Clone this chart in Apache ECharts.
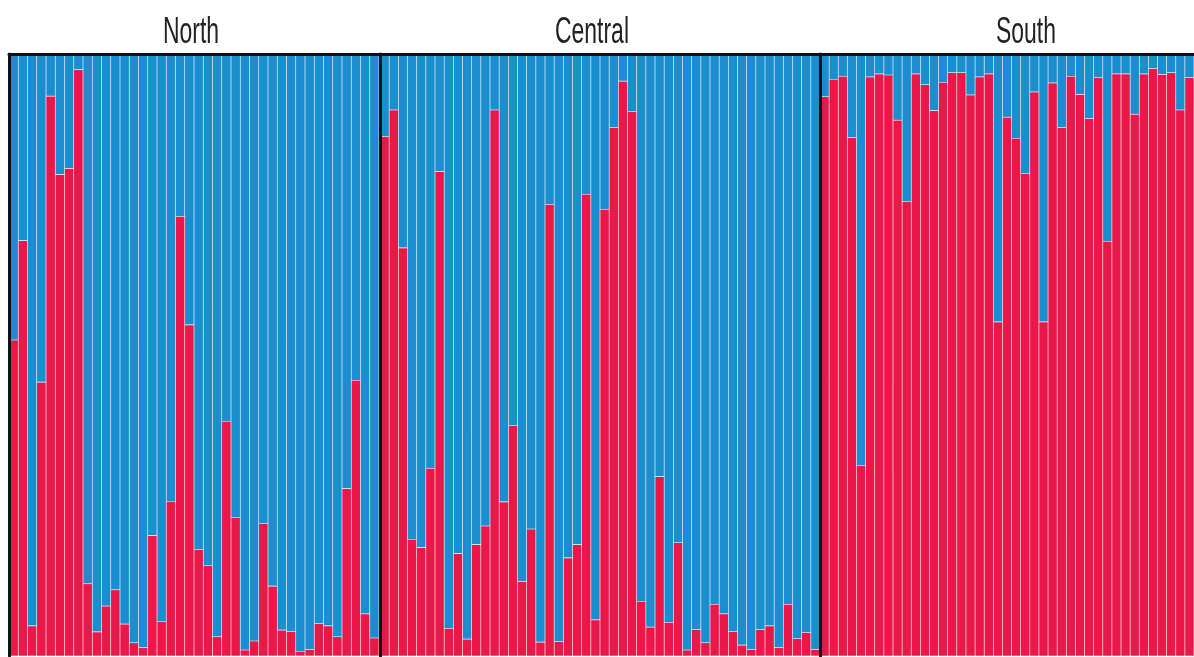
<!DOCTYPE html>
<html>
<head>
<meta charset="utf-8">
<script src="https://cdn.jsdelivr.net/npm/echarts@6/dist/echarts.min.js"></script>
<style>
html,body{margin:0;padding:0;background:#fff;}
#chart{width:1194px;height:657px;}
</style>
</head>
<body>
<div id="chart"></div>
<script>
// Panel titles
const panelNames = ['North', 'Central', 'South'];

// Proportion of ancestry assigned to the red cluster, one value per individual
const northRed = [0.525,0.69,0.05,0.455,0.93,0.80,0.81,0.974,0.12,0.04,0.083,0.11,0.053,0.022,0.014,0.20,0.057,0.257,0.73,0.55,
  0.177,0.15,0.032,0.39,0.23,0.01,0.025,0.22,0.116,0.043,0.041,0.008,0.011,0.054,0.05,0.032,0.278,0.458,0.07,0.03];
const centralRed = [0.863,0.907,0.678,0.194,0.18,0.312,0.805,0.046,0.17,0.028,0.185,0.216,0.907,0.256,0.383,0.124,0.211,0.023,0.75,0.024,
  0.163,0.185,0.767,0.06,0.742,0.878,0.955,0.904,0.091,0.048,0.298,0.056,0.188,0.01,0.044,0.022,0.086,0.07,0.041,0.018,
  0.011,0.044,0.05,0.014,0.086,0.029,0.039,0.011];
const southRed = [0.929,0.958,0.963,0.861,0.316,0.962,0.967,0.965,0.89,0.755,0.967,0.949,0.906,0.953,0.969,0.969,0.932,0.962,0.967,0.555,
  0.895,0.86,0.801,0.937,0.555,0.952,0.878,0.963,0.933,0.893,0.961,0.689,0.967,0.967,0.9,0.967,0.976,0.966,0.969,0.907,0.961];

const RED = '#EA1849';
const BLUE = '#1B8ECF';

const panels = [northRed, centralRed, southRed];
const gridDefs = [
  {left: 9, width: 370},
  {left: 380, width: 440},
  {left: 820, width: 376}
];
const titleX = [191, 592, 1026];

const grids = [], xAxes = [], yAxes = [], series = [], graphics = [];
panels.forEach((red, i) => {
  const cats = red.map((_, k) => panelNames[i] + ' ' + (k + 1));
  const blue = red.map(v => +(1 - v).toFixed(3));
  grids.push({left: gridDefs[i].left, width: gridDefs[i].width, top: 54, bottom: 1, containLabel: false});
  xAxes.push({
    type: 'category', gridIndex: i, data: cats, position: 'top', z: 10,
    axisLine: {show: true, onZero: false, lineStyle: {color: '#111', width: 3}},
    axisTick: {show: false}, axisLabel: {show: false}, splitLine: {show: false}
  });
  yAxes.push({
    type: 'value', gridIndex: i, min: 0, max: 1, z: 10,
    axisLine: {show: true, onZero: false, lineStyle: {color: '#111', width: 3}},
    axisTick: {show: false}, axisLabel: {show: false}, splitLine: {show: false}
  });
  const common = {type: 'bar', xAxisIndex: i, yAxisIndex: i, stack: 'q' + i,
    barCategoryGap: '0%', animation: false, silent: true};
  series.push(Object.assign({}, common, {
    name: 'red' + i, data: red,
    itemStyle: {color: RED, borderColor: 'rgba(255,255,255,0.07)', borderWidth: 0.6}
  }));
  series.push(Object.assign({}, common, {
    name: 'blue' + i, data: blue,
    itemStyle: {color: BLUE, borderColor: 'rgba(255,255,255,0.07)', borderWidth: 0.6}
  }));
  graphics.push({
    type: 'text', x: titleX[i], y: 33, scaleX: 0.62, scaleY: 1,
    style: {text: panelNames[i], fill: '#222', font: '37px "Liberation Sans", Arial, sans-serif',
      textAlign: 'center', textVerticalAlign: 'middle', verticalAlign: 'middle'}
  });
});

const chart = echarts.init(document.getElementById('chart'), null, {renderer: 'canvas'});
chart.setOption({
  backgroundColor: '#fff',
  animation: false,
  grid: grids,
  xAxis: xAxes,
  yAxis: yAxes,
  series: series,
  graphic: graphics
});
</script>
</body>
</html>
